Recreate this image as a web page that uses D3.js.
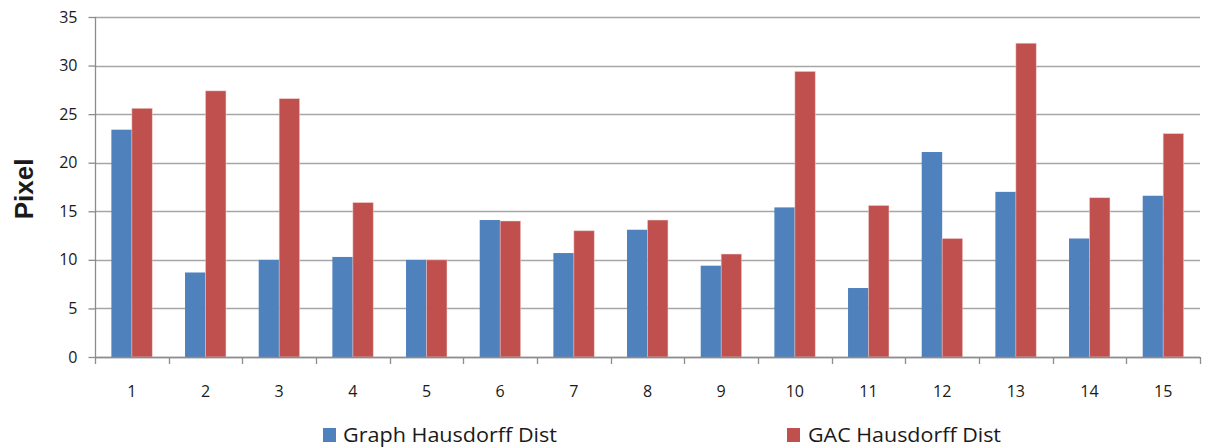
<!DOCTYPE html>
<html>
<head>
<meta charset="utf-8">
<script src="https://cdn.jsdelivr.net/npm/d3@7"></script>
<style>
  html, body { margin: 0; padding: 0; background: #fff; }
  svg { display: block; }
  text { font-family: "Open Sans", "Liberation Sans", sans-serif; fill: #1a1a1a; }
</style>
</head>
<body>
<svg id="chart" width="1208" height="448"></svg>
<script>
// Test cases 1..15
const categories = ["1","2","3","4","5","6","7","8","9","10","11","12","13","14","15"];
// Hausdorff distance (pixels) per method
const graphDist = [23.4, 8.7, 10.0, 10.3, 10.0, 14.1, 10.7, 13.1, 9.4, 15.4, 7.1, 21.1, 17.0, 12.2, 16.6];
const gacDist   = [25.6, 27.4, 26.6, 15.9, 10.0, 14.0, 13.0, 14.1, 10.6, 29.4, 15.6, 12.2, 32.3, 16.4, 23.0];
const seriesNames = ["Graph Hausdorff Dist", "GAC Hausdorff Dist"];
const yTicks = [0, 5, 10, 15, 20, 25, 30, 35];

const colors = ["#4f81bd", "#c0504d"];
const svg = d3.select("#chart");

const plotLeft = 95, plotRight = 1200, plotTop = 17, plotBottom = 357;

const x = d3.scaleBand().domain(categories).range([plotLeft, plotRight]).paddingInner(0).paddingOuter(0);
const bw = x.bandwidth() / 3.6; // bar width with 160% gap
const y = d3.scaleLinear().domain([0, 35]).range([plotBottom, plotTop]);

// horizontal gridlines
svg.append("g")
  .selectAll("line")
  .data(yTicks)
  .join("line")
  .attr("x1", plotLeft).attr("x2", plotRight)
  .attr("y1", d => Math.round(y(d)) + 0.5).attr("y2", d => Math.round(y(d)) + 0.5)
  .attr("stroke", "#a6a6a6").attr("stroke-width", 1.3);

// bars
const series = [graphDist, gacDist];
series.forEach((vals, si) => {
  svg.append("g")
    .selectAll("rect")
    .data(categories.map((c, i) => ({ c, v: vals[i] })))
    .join("rect")
    .attr("x", d => x(d.c) + x.bandwidth() / 2 - bw + si * bw)
    .attr("y", d => y(d.v))
    .attr("width", bw)
    .attr("height", d => y(0) - y(d.v))
    .attr("fill", colors[si])
    .attr("stroke", "#f4d8d8")
    .attr("stroke-opacity", si === 1 ? 0.6 : 0)
    .attr("stroke-width", 0.8);
});

// y axis
const yAxis = d3.axisLeft(y).tickValues(yTicks).tickSize(7).tickPadding(11);
const gy = svg.append("g").attr("transform", `translate(${plotLeft + 0.5},0)`).call(yAxis);
gy.select(".domain").attr("stroke", "#8c8c8c").attr("stroke-width", 1.3).attr("d", `M0,${plotTop}V${plotBottom}`);
gy.selectAll(".tick line").attr("stroke", "#8c8c8c").attr("stroke-width", 1.3);
gy.selectAll(".tick text").attr("font-size", 16).attr("fill", "#1a1a1a")
  .style("font-family", "'Open Sans', 'Liberation Sans', sans-serif");

// x axis
const xTickPos = d3.range(categories.length + 1).map(i => plotLeft + i * x.bandwidth());
const gx = svg.append("g");
gx.append("line").attr("x1", plotLeft).attr("x2", plotRight)
  .attr("y1", plotBottom + 0.5).attr("y2", plotBottom + 0.5)
  .attr("stroke", "#8c8c8c").attr("stroke-width", 1.3);
gx.selectAll("line.tk").data(xTickPos).join("line").attr("class", "tk")
  .attr("x1", d => Math.round(d) + 0.5).attr("x2", d => Math.round(d) + 0.5)
  .attr("y1", plotBottom).attr("y2", plotBottom + 7)
  .attr("stroke", "#8c8c8c").attr("stroke-width", 1.3);
const xAxis = d3.axisBottom(x).tickSize(0).tickPadding(0);
const gxl = svg.append("g").attr("transform", `translate(0,${plotBottom})`).call(xAxis);
gxl.select(".domain").remove();
gxl.selectAll(".tick text").attr("y", 35).attr("dy", "0.32em").attr("font-size", 16).attr("fill", "#1a1a1a")
  .style("font-family", "'Open Sans', 'Liberation Sans', sans-serif");

// y axis title
svg.append("text")
  .attr("transform", "translate(33,189) rotate(-90)")
  .attr("text-anchor", "middle")
  .attr("font-size", 26)
  .attr("font-weight", "bold")
  .style("font-family", "'Liberation Sans', Arial, sans-serif")
  .attr("fill", "#000")
  .text("Pixel");

// legend
const legendPos = [{ sx: 323, tx: 343, w: 214 }, { sx: 787, tx: 808, w: 193 }];
seriesNames.forEach((name, i) => {
  const p = legendPos[i];
  svg.append("rect").attr("x", p.sx).attr("y", 428).attr("width", 13).attr("height", 14).attr("fill", colors[i]);
  svg.append("text").attr("x", p.tx).attr("y", 442)
    .attr("font-size", 20)
    .attr("textLength", p.w).attr("lengthAdjust", "spacingAndGlyphs")
    .text(name);
});
</script>
</body>
</html>
